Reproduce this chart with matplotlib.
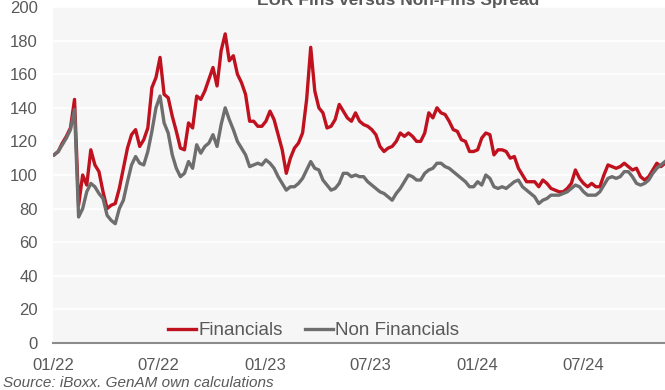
import pandas as pd
import matplotlib.pyplot as plt

plt.rcParams['font.family'] = ['Liberation Sans', 'DejaVu Sans']

# weekly spread levels (bp)
start_date = '2022-01-03'

financials = [
    112, 114, 119, 123, 128, 145, 82, 100, 94, 115,
    106, 102, 90, 80, 82, 83, 92, 104, 116, 124,
    127, 117, 121, 128, 152, 158, 170, 148, 146, 135,
    126, 116, 115, 131, 128, 147, 145, 150, 157, 164,
    153, 174, 184, 168, 171, 160, 155, 148, 132, 132,
    129, 129, 132, 138, 133, 124, 115, 101, 110, 116,
    119, 125, 145, 176, 150, 140, 137, 128, 129, 133,
    142, 138, 134, 132, 137, 132, 130, 129, 127, 124,
    117, 114, 116, 117, 120, 125, 123, 125, 123, 120,
    120, 125, 137, 134, 140, 137, 136, 132, 127, 126,
    121, 120, 114, 114, 115, 122, 125, 124, 112, 115,
    115, 114, 110, 111, 104, 100, 96, 96, 96, 93,
    97, 95, 92, 91, 90, 90, 92, 95, 103, 98,
    95, 93, 95, 93, 93, 100, 106, 105, 104, 105,
    107, 105, 103, 104, 99, 97, 99, 103, 107, 105,
    107,
]

non_financials = [
    112, 114, 118, 122, 127, 139, 75, 80, 90, 95,
    93, 89, 86, 76, 73, 71, 80, 85, 96, 106,
    111, 107, 106, 114, 126, 140, 147, 131, 125, 112,
    104, 99, 101, 108, 104, 118, 113, 117, 119, 124,
    117, 130, 140, 133, 127, 120, 116, 112, 105, 106,
    107, 106, 109, 107, 104, 99, 95, 91, 93, 93,
    95, 98, 103, 108, 104, 103, 97, 94, 91, 92,
    95, 101, 101, 99, 100, 99, 99, 96, 94, 92,
    90, 89, 87, 85, 89, 92, 96, 100, 99, 97,
    97, 101, 103, 104, 107, 107, 105, 104, 102, 100,
    98, 96, 93, 93, 96, 94, 100, 98, 93, 92,
    93, 92, 94, 96, 97, 93, 91, 89, 87, 83,
    85, 86, 88, 88, 88, 89, 90, 92, 94, 93,
    90, 88, 88, 88, 90, 94, 98, 99, 98, 99,
    102, 102, 99, 95, 94, 95, 97, 101, 104, 106,
    108,
]

dates = pd.date_range(start_date, periods=len(financials), freq='7D')

tick_dates = ['2022-01-01', '2022-07-01', '2023-01-01',
              '2023-07-01', '2024-01-01', '2024-07-01']
tick_labels = ['01/22', '07/22', '01/23', '07/23', '01/24', '07/24']

red = '#c0111f'
grey = '#6e6e6e'
text_grey = '#595959'

fig = plt.figure(figsize=(6.65, 3.9), dpi=100)
ax = fig.add_axes([53 / 665, 1 - 343 / 390, 1 - 53 / 665, 336 / 390])
ax.set_facecolor('#f6f6f6')

ax.plot(dates, financials, color=red, lw=2.4, label='Financials')
ax.plot(dates, non_financials, color=grey, lw=2.4, label='Non Financials')

ax.set_ylim(0, 200)
ax.set_yticks(range(0, 201, 20))
ax.set_xlim(pd.Timestamp('2022-01-01'), dates[-1])
ax.set_xticks(pd.to_datetime(tick_dates))
ax.set_xticklabels(tick_labels)

ax.grid(axis='y', color='white', lw=1.2)
ax.set_axisbelow(True)
for side in ['top', 'right', 'left']:
    ax.spines[side].set_visible(False)
ax.spines['bottom'].set_color('#8c8c8c')
ax.spines['bottom'].set_linewidth(1.5)
ax.tick_params(axis='both', length=0, labelsize=12, colors=text_grey)
ax.tick_params(axis='y', pad=11)
ax.tick_params(axis='x', pad=11)

leg = ax.legend(loc='center', bbox_to_anchor=(0.426, 0.036), ncol=2,
                frameon=False, fontsize=13.5, handlelength=1.5,
                handletextpad=0.1, columnspacing=1.2)
for t in leg.get_texts():
    t.set_color(text_grey)

# title sits mostly above the top edge
fig.text(0.598, 1 - 5 / 390, 'EUR Fins versus Non-Fins Spread', ha='center',
         va='baseline', fontsize=12.5, fontweight='bold', color=text_grey)
fig.text(0.004, 0.008, 'Source: iBoxx. GenAM own calculations',
         fontsize=11, style='italic', color=text_grey)

fig.savefig('out.png', dpi=100)
